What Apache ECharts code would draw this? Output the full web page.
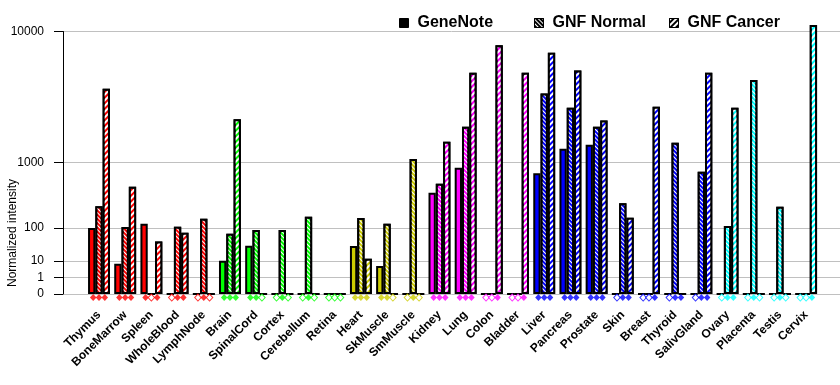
<!DOCTYPE html>
<html><head><meta charset="utf-8">
<script src="https://cdn.jsdelivr.net/npm/echarts@6/dist/echarts.min.js"></script>
<style>html,body{margin:0;padding:0;background:#fff}#c{width:840px;height:385px}</style>
</head><body><div id="c"></div>
<script>
const categories = ['Thymus','BoneMarrow','Spleen','WholeBlood','LymphNode','Brain','SpinalCord','Cortex','Cerebellum','Retina','Heart','SkMuscle','SmMuscle','Kidney','Lung','Colon','Bladder','Liver','Pancreas','Prostate','Skin','Breast','Thyroid','SalivGland','Ovary','Placenta','Testis','Cervix'];
const geneNote  = [100, 7.5, 124, 0, 0, 10.3, 35.5, 0, 0, 0, 35, 5.8, 0, 418, 873, 0, 0, 750, 1394, 1525, 0, 0, 0, 0, 0, 0, 0, 0];
const gnfNormal = [260, 105, 0, 107, 156, 74, 90, 90, 170, 0, 160, 124, 1090, 556, 2230, 0, 0, 4080, 3190, 2230, 289, 0, 1594, 785, 111, 5060, 255, 0];
const gnfCancer = [4400, 507, 47, 78, 0, 2570, 0, 0, 0, 0, 12.5, 0, 0, 1630, 5660, 8350, 5660, 7550, 5840, 2510, 163, 3250, 0, 5660, 3190, 0, 0, 10850];
const geneNoteFlag  = [1,1,1,0,0,1,1,0,0,0,1,1,0,1,1,0,0,1,1,1,0,0,0,0,0,0,0,0];
const gnfNormalFlag = [1,1,0,1,1,1,1,1,1,0,1,1,1,1,1,0,0,1,1,1,1,0,1,1,1,1,1,0];
const gnfCancerFlag = [1,1,1,1,0,1,0,0,0,0,1,0,0,1,1,1,1,1,1,1,1,1,1,1,1,0,0,1];
const tissueGroup = [0,0,0,0,0,1,1,1,1,1,2,2,2,3,3,3,3,4,4,4,4,4,4,4,5,5,5,5];
const yTickLabels = [0, 1, 10, 100, 1000, 10000];
const seriesNames = ['GeneNote', 'GNF Normal', 'GNF Cancer'];

const groupColors = ['#FF0000', '#00FF00', '#CCCC00', '#FF00FF', '#0000FF', '#00FFFF'];
const FONT = '"Liberation Sans", Arial, sans-serif';
const T = v => Math.pow(v, 0.3);
const tickPos = yTickLabels.map(T);
const yMax = T(10000);

const decals = [
  null,
  {symbol: 'rect', symbolSize: 1, color: '#ffffff', dashArrayX: [1, 0], dashArrayY: [1, 1.3], rotation: Math.PI / 4},
  {symbol: 'rect', symbolSize: 1, color: '#ffffff', dashArrayX: [1, 0], dashArrayY: [1.5, 1.6], rotation: -Math.PI / 4}
];
const valueSets = [geneNote, gnfNormal, gnfCancer];
const flagSets = [geneNoteFlag, gnfNormalFlag, gnfCancerFlag];
const offsets = [-5.8, 0, 5.8];
const legendLefts = [399, 534, 669];

const series = [];
valueSets.forEach((vals, s) => {
  const d = decals[s];
  series.push({
    name: seriesNames[s], type: 'bar', xAxisIndex: 1, yAxisIndex: 1,
    barWidth: 7.3, barGap: '0%', clip: false,
    itemStyle: Object.assign({color: '#000', borderColor: '#000', borderWidth: 2}, d ? {decal: d} : {}),
    data: vals.map((v, i) => ({
      value: T(v),
      itemStyle: Object.assign({color: groupColors[tissueGroup[i]], borderColor: '#000', borderWidth: 2}, d ? {decal: d} : {})
    }))
  });
});
flagSets.forEach((flags, s) => {
  series.push({
    type: 'scatter', xAxisIndex: 1, yAxisIndex: 1, clip: false, z: 5,
    symbol: 'diamond', symbolSize: [6.5, 7], symbolOffset: [offsets[s], 3.6],
    data: flags.map((f, i) => {
      const c = groupColors[tissueGroup[i]];
      return {
        value: [i, 0],
        itemStyle: f ? {color: c, borderWidth: 0} : {color: '#ffffff', borderColor: c, borderWidth: 1}
      };
    })
  });
});

const legends = seriesNames.map((n, k) => ({
  data: [n], left: legendLefts[k], top: 15, padding: 0, itemWidth: 9, itemHeight: 9, itemGap: 0, icon: 'rect',
  selectedMode: false,
  itemStyle: {borderWidth: 1, borderColor: '#000'},
  textStyle: {fontFamily: FONT, fontSize: 16, fontWeight: 'bold', color: '#000', padding: [0, 0, 0, 4]}
}));

const chart = echarts.init(document.getElementById('c'), null, {renderer: 'canvas'});
chart.setOption({
  animation: false,
  backgroundColor: '#ffffff',
  textStyle: {fontFamily: FONT},
  legend: legends,
  graphic: [{
    type: 'text', x: 13, y: 233, rotation: Math.PI / 2,
    style: {text: 'Normalized intensity', font: '12px ' + FONT, fill: '#000', textAlign: 'center', textVerticalAlign: 'middle'}
  }],
  grid: [
    {left: 63, right: 0, top: 31.5, bottom: 91},
    {left: 85.9, right: 20.8, top: 31.5, bottom: 91}
  ],
  xAxis: [
    {gridIndex: 0, type: 'value', show: false, min: 0, max: 1},
    {gridIndex: 1, type: 'category', data: categories,
     axisLine: {show: false}, axisTick: {show: false},
     axisLabel: {interval: 0, rotate: 45, margin: 19, fontFamily: FONT, fontSize: 12, fontWeight: 'bold', color: '#000'}}
  ],
  yAxis: [
    {gridIndex: 0, type: 'value', min: 0, max: yMax,
     axisLine: {show: true, lineStyle: {color: '#000', width: 1}},
     axisTick: {show: true, length: 9, customValues: tickPos, lineStyle: {color: '#000'}},
     axisLabel: {customValues: tickPos, margin: 19, fontFamily: FONT, fontSize: 12, color: '#000',
       formatter: v => {
         let best = 0;
         tickPos.forEach((p, k) => { if (Math.abs(p - v) < Math.abs(tickPos[best] - v)) best = k; });
         return String(yTickLabels[best]);
       }},
     splitLine: {show: true, lineStyle: {color: '#C0C0C0', width: 1}}
    },
    {gridIndex: 1, type: 'value', min: 0, max: yMax, show: false}
  ],
  series: series
});
</script>
</body></html>
